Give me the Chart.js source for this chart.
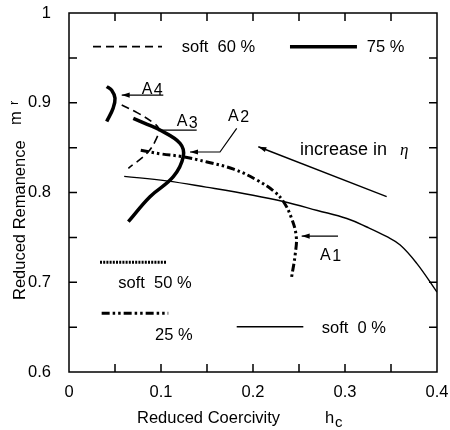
<!DOCTYPE html>
<html><head><meta charset="utf-8">
<script src="https://cdn.jsdelivr.net/npm/chart.js@4/dist/chart.umd.min.js"></script>
<style>html,body{margin:0;padding:0;background:#fff}canvas{display:block}</style>
</head><body>
<canvas id="c" width="450" height="430"></canvas>
<script>
// ---- tick labels ----
const xTickLabels = ['0', '0.1', '0.2', '0.3', '0.4'];
const yTickLabels = ['0.6', '0.7', '0.8', '0.9', '1'];
const xMinorTicks = [0.05, 0.1, 0.15, 0.2, 0.25, 0.3, 0.35];
const yMinorTicks = [0.65, 0.7, 0.75, 0.8, 0.85, 0.9, 0.95];

// ---- series (reduced coercivity h_c, reduced remanence m_r) ----
const soft0X = [0.060, 0.106, 0.149, 0.200, 0.233, 0.270, 0.302, 0.325, 0.345, 0.360, 0.378, 0.400];
const soft0Y = [0.818, 0.813, 0.806, 0.797, 0.790, 0.780, 0.771, 0.761, 0.751, 0.7415, 0.721, 0.689];

const soft25X = [0.078, 0.100, 0.123, 0.150, 0.179, 0.204, 0.222, 0.233, 0.242, 0.247, 0.246, 0.242];
const soft25Y = [0.847, 0.843, 0.840, 0.834, 0.826, 0.814, 0.802, 0.790, 0.771, 0.751, 0.732, 0.706];

const soft60X = [0.0573, 0.074, 0.0899, 0.0975, 0.095, 0.085, 0.0645];
const soft60Y = [0.8975, 0.889, 0.8789, 0.871, 0.860, 0.844, 0.827];

const soft75aX = [0.041, 0.0464, 0.050, 0.048, 0.041];
const soft75aY = [0.918, 0.914, 0.905, 0.894, 0.879];
const soft75bX = [0.0699, 0.085, 0.0989, 0.1207, 0.1242, 0.1134, 0.0880, 0.0645];
const soft75bY = [0.8827, 0.876, 0.8696, 0.8548, 0.8399, 0.8176, 0.7953, 0.7675];

const zip = (xs, ys) => xs.map((x, i) => ({x: x, y: ys[i]}));

// ---- line styles ----
const styles = {
  s0:  {w: 1.4, dash: []},
  s25: {w: 3,   dash: [8, 3, 2.5, 3, 2.5, 3]},
  s50: {w: 3,   dash: [2, 1.2]},
  s60: {w: 1.6, dash: [8, 5]},
  s75: {w: 3.5, dash: []}
};

function ds(label, xs, ys, st) {
  return {label: label, data: zip(xs, ys), showLine: true, pointRadius: 0,
    borderColor: '#000', borderWidth: st.w, borderDash: st.dash, tension: 0.4,
    fill: false, borderCapStyle: 'butt'};
}

// ---- in-plot legend samples and annotations (data coordinates) ----
const legendItems = [
  {style: 's60', x1: 0.0261, x2: 0.1011, y: 0.9625, text: 'soft  60 %', tx: 0.1225, ty: 0.9569},
  {style: 's75', x1: 0.2402, x2: 0.3130, y: 0.9625, text: '75 %', tx: 0.3236, ty: 0.9569},
  {style: 's50', x1: 0.0337, x2: 0.1065, y: 0.7222, text: 'soft  50 %', tx: 0.0536, ty: 0.6936},
  {style: 's25', x1: 0.0355, x2: 0.1079, y: 0.6654, text: '25 %', tx: 0.0935, ty: 0.6357},
  {style: 's0',  x1: 0.1823, x2: 0.2547, y: 0.6505, text: 'soft  0 %', tx: 0.2747, ty: 0.6435}
];
const labelsA = [
  {main: 'A', sub: '4', x: 0.079, y: 0.9098},
  {main: 'A', sub: '3', x: 0.117, y: 0.874},
  {main: 'A', sub: '2', x: 0.1728, y: 0.8797},
  {main: 'A', sub: '1', x: 0.2728, y: 0.7248}
];
const arrows = [
  {pts: [[0.1025, 0.9086], [0.0573, 0.9086]], w: 1.2},
  {pts: [[0.1823, 0.8715], [0.1641, 0.8451], [0.1315, 0.8451]], w: 1.2},
  {pts: [[0.2924, 0.7515], [0.2529, 0.7515]], w: 1.2},
  {pts: [[0.3453, 0.7953], [0.2058, 0.851]], w: 1.4}
];
const plainLines = [
  {pts: [[0.097, 0.8696], [0.1388, 0.8696]], w: 1.2}
];

const SANS = '"Liberation Sans", Arial, Helvetica, sans-serif';
const FS = 16.5;

const deco = {
  id: 'deco',
  afterDraw(chart) {
    const ctx = chart.ctx, xs = chart.scales.x, ys = chart.scales.y, a = chart.chartArea;
    const P = (x, y) => [xs.getPixelForValue(x), ys.getPixelForValue(y)];
    ctx.save();
    ctx.strokeStyle = '#000'; ctx.fillStyle = '#000';
    // frame
    ctx.lineWidth = 1.5; ctx.setLineDash([]);
    ctx.strokeRect(a.left, a.top, a.right - a.left, a.bottom - a.top);
    // inward ticks on all four sides
    ctx.lineWidth = 1.5;
    const tl = 8;
    xMinorTicks.forEach(v => {
      const px = xs.getPixelForValue(v);
      ctx.beginPath(); ctx.moveTo(px, a.bottom); ctx.lineTo(px, a.bottom - tl);
      ctx.moveTo(px, a.top); ctx.lineTo(px, a.top + tl); ctx.stroke();
    });
    yMinorTicks.forEach(v => {
      const py = ys.getPixelForValue(v);
      ctx.beginPath(); ctx.moveTo(a.left, py); ctx.lineTo(a.left + tl, py);
      ctx.moveTo(a.right, py); ctx.lineTo(a.right - tl, py); ctx.stroke();
    });
    // legend samples
    legendItems.forEach(it => {
      const st = styles[it.style];
      const p1 = P(it.x1, it.y), p2 = P(it.x2, it.y);
      ctx.lineWidth = st.w; ctx.setLineDash(st.dash); ctx.lineCap = 'butt';
      ctx.beginPath(); ctx.moveTo(p1[0], p1[1]); ctx.lineTo(p2[0], p2[1]); ctx.stroke();
      ctx.setLineDash([]);
      const t = P(it.tx, it.ty);
      ctx.font = FS + 'px ' + SANS; ctx.textAlign = 'left'; ctx.textBaseline = 'alphabetic';
      ctx.fillText(it.text, t[0], t[1]);
    });
    // plain lines and arrows
    ctx.setLineDash([]);
    plainLines.forEach(l => {
      ctx.lineWidth = l.w; ctx.beginPath();
      l.pts.forEach((q, i) => { const p = P(q[0], q[1]); i ? ctx.lineTo(p[0], p[1]) : ctx.moveTo(p[0], p[1]); });
      ctx.stroke();
    });
    arrows.forEach(l => {
      ctx.lineWidth = l.w; ctx.beginPath();
      const pp = l.pts.map(q => P(q[0], q[1]));
      pp.forEach((p, i) => i ? ctx.lineTo(p[0], p[1]) : ctx.moveTo(p[0], p[1]));
      ctx.stroke();
      const h = pp[pp.length - 1], t = pp[pp.length - 2];
      const ang = Math.atan2(h[1] - t[1], h[0] - t[0]);
      const L = 8, W = 2.6;
      ctx.beginPath();
      ctx.moveTo(h[0], h[1]);
      ctx.lineTo(h[0] - L * Math.cos(ang) + W * Math.sin(ang), h[1] - L * Math.sin(ang) - W * Math.cos(ang));
      ctx.lineTo(h[0] - L * Math.cos(ang) - W * Math.sin(ang), h[1] - L * Math.sin(ang) + W * Math.cos(ang));
      ctx.closePath(); ctx.fill();
    });
    // A labels
    labelsA.forEach(l => {
      const p = P(l.x, l.y);
      ctx.font = '16px ' + SANS; ctx.textAlign = 'left'; ctx.textBaseline = 'alphabetic';
      ctx.fillText(l.main, p[0], p[1]);
      const w = ctx.measureText(l.main).width;
      ctx.fillText(l.sub, p[0] + w + 1.5, p[1] + 1.5);
    });
    // increase in eta
    const ip = P(0.2511, 0.8418);
    ctx.font = '18px ' + SANS; ctx.fillText('increase in', ip[0], ip[1]);
    ctx.font = 'italic 17px "Liberation Serif", "DejaVu Serif", serif';
    ctx.fillText('\u03B7', ip[0] + 100, ip[1]);
    // x axis title
    ctx.font = FS + 'px ' + SANS; ctx.textAlign = 'left';
    ctx.fillText('Reduced Coercivity', 137, 423);
    ctx.fillText('h', 325, 423);
    ctx.font = '15px ' + SANS;
    ctx.fillText('c', 335, 427);
    // y axis title (rotated)
    ctx.save();
    ctx.translate(25, 300); ctx.rotate(-Math.PI / 2);
    ctx.font = FS + 'px ' + SANS; ctx.textAlign = 'left';
    ctx.fillText('Reduced Remanence', 0, 0);
    ctx.fillText('m', 175, -4);
    ctx.font = '13px ' + SANS;
    ctx.fillText('r', 195, -7);
    ctx.restore();
    ctx.restore();
  }
};

new Chart(document.getElementById('c'), {
  type: 'scatter',
  data: {
    datasets: [
      ds('soft 0 %', soft0X, soft0Y, styles.s0),
      ds('25 %', soft25X, soft25Y, styles.s25),
      ds('soft 60 %', soft60X, soft60Y, styles.s60),
      ds('75 %', soft75aX, soft75aY, styles.s75),
      ds('75 %', soft75bX, soft75bY, styles.s75)
    ]
  },
  options: {
    responsive: false, animation: false, devicePixelRatio: 1,
    layout: {padding: {left: 0, top: 13, right: 13, bottom: 0}},
    plugins: {legend: {display: false}, tooltip: {enabled: false}},
    scales: {
      x: {
        type: 'linear', min: 0, max: 0.4,
        afterFit(s) { s.height = 58; s.paddingLeft = 0; s.paddingRight = 0; },
        grid: {display: false},
        border: {display: false},
        ticks: {stepSize: 0.1, padding: 3, color: '#000', font: {size: FS, family: SANS},
          maxRotation: 0,
          callback: v => xTickLabels[Math.round(v / 0.1)]}
      },
      y: {
        type: 'linear', min: 0.6, max: 1,
        afterFit(s) { s.width = 69; s.paddingTop = 0; s.paddingBottom = 0; },
        grid: {display: false},
        border: {display: false},
        ticks: {stepSize: 0.1, padding: 10, color: '#000', font: {size: FS, family: SANS},
          callback: v => yTickLabels[Math.round((v - 0.6) / 0.1)]}
      }
    }
  },
  plugins: [deco]
});
</script>
</body></html>
